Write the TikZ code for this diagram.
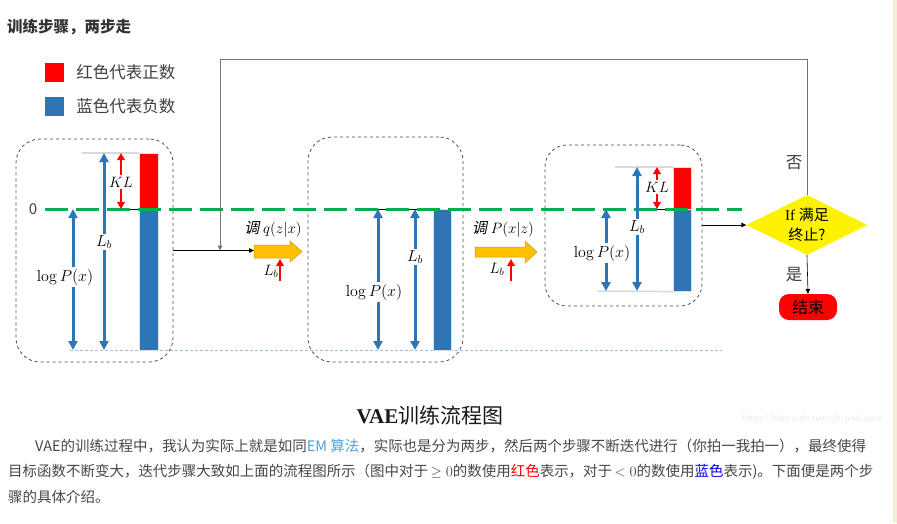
\RequirePackage{fix-cm}
\documentclass[tikz,border=0pt]{standalone}
\usepackage{amsmath}
\usepackage{amssymb}
\usepackage[no-math]{fontspec}
\usepackage{tikz}
\usetikzlibrary{arrows.meta, positioning, shapes.geometric, calc, backgrounds}
\setmainfont{Liberation Serif}
\newfontfamily\cjk{Noto Sans CJK SC}
\newfontfamily\cjkslant[FakeSlant=0.2]{Noto Sans CJK SC}
\newcommand{\pxfont}[1]{\fontsize{#1}{#1}\selectfont}
\definecolor{vaeblue}{RGB}{46, 117, 182}
\definecolor{vaered}{RGB}{255, 0, 0}
\definecolor{vaegreen}{RGB}{0, 176, 80}
\definecolor{vaeyellow}{RGB}{255, 192, 0}
\definecolor{vaelink}{RGB}{78, 161, 219}
\definecolor{vaepaper}{RGB}{246, 236, 218}
\definecolor{vaeguide}{RGB}{157, 195, 230}

\begin{document}
\begin{tikzpicture}[
    x=1pt, y=-1pt,
    panel/.style={draw=black!70, dashed, line width=0.8pt, rounded corners=24pt, inner sep=0pt},
    barred/.style={fill=vaered, draw=black!12, line width=0.6pt, inner sep=0pt, anchor=north west},
    barblue/.style={fill=vaeblue, draw=black!12, line width=0.6pt, inner sep=0pt, anchor=north west},
    zeroline/.style={vaegreen, line width=3pt, dash pattern=on 23pt off 8pt},
    greyline/.style={black!15, line width=1.5pt},
    dimarrow/.style={vaeblue, line width=3pt, -{Triangle[width=9pt, length=9pt]}},
    klarrow/.style={vaered, line width=2.2pt, -{Triangle[width=7.5pt, length=7pt]}},
    flow/.style={black, line width=0.6pt, -{Triangle[width=4.5pt, length=5pt]}},
    loopflow/.style={black!55, line width=1pt, -{Triangle[width=4.5pt, length=5pt]}},
    mathlbl/.style={inner sep=1.5pt, font=\pxfont{16}},
    cnlbl/.style={inner sep=0pt, font=\cjk\pxfont{16.5}, text=black!75},
    yarrow/.style={fill=vaeyellow, draw=vaeyellow!80!black, line width=0.5pt},
]
\useasboundingbox (0,0) rectangle (897,523);
\fill[white] (0,0) rectangle (897,523);
\fill[vaepaper] (893,0) rectangle (897,523);

% Title
\node[anchor=west, inner sep=0pt, font=\cjk\bfseries\pxfont{15.5}, text=black!80] (title) at (7,27) {训练步骤，两步走};

% Legend
\node[fill=vaered, minimum size=19pt, inner sep=0pt] (kred) at (54.5,72.5) {};
\node[fill=vaeblue, minimum size=19pt, inner sep=0pt] (kblue) at (54.5,106) {};
\node[cnlbl, right=12pt of kred] {红色代表正数};
\node[cnlbl, right=12pt of kblue] {蓝色代表负数};

% Panels
\node[panel, minimum width=157pt, minimum height=223pt] (p1) at (94.5,250.5) {};
\node[panel, minimum width=155pt, minimum height=225pt] (p2) at (385.5,249.5) {};
\node[panel, minimum width=157pt, minimum height=161pt, rounded corners=22pt] (p3) at (623.5,225.5) {};

% Bottom guide
\draw[vaeguide, line width=0.6pt, dash pattern=on 3pt off 2pt] (70,350) -- (722,350);

% Bars
\node[barred, minimum width=19pt, minimum height=56pt] (r1) at (139,153) {};
\node[barblue, minimum width=19pt, minimum height=141pt] (b1) at (139,209) {};
\node[barblue, minimum width=18pt, minimum height=141pt] (b2) at (433,209) {};
\node[barred, minimum width=18pt, minimum height=42pt] (r3) at (673,167) {};
\node[barblue, minimum width=18pt, minimum height=82pt] (b3) at (673,209) {};

% Grey ends
\draw[greyline] (82,153) -- (r1.north west);
\draw[greyline] (615,167) -- (r3.north west);
\draw[greyline] (597,291) -- (b3.south west);

% Zero level
\draw[black, line width=1pt] (128,209) -- (b1.north west);
\draw[black, line width=1pt] (373,209) -- (b2.north west);
\draw[black, line width=1pt] (648,209) -- (b3.north west);
\coordinate (zl) at (45,209);
\coordinate (zr) at (742,209);
\draw[zeroline] (zl) -- (zr);
\node[inner sep=0pt, font=\cjk\pxfont{15}, text=black!75] (zero) at (33,209) {0};

% Panel 1 arrows
\coordinate (t1) at (104,153);
\coordinate (u1) at (104,350);
\node[mathlbl] (lb1) at (104,242) {$L_b$};
\draw[dimarrow] (lb1) -- (t1);
\draw[dimarrow] (lb1) -- (u1);
\coordinate (z1) at (73,209);
\coordinate (v1) at (73,350);
\node[mathlbl] (lp1) at (65,277) {$\log P(x)$};
\draw[dimarrow] (lp1.north -| z1) -- (z1);
\draw[dimarrow] (lp1.south -| v1) -- (v1);
\coordinate (kt1) at (121,153);
\coordinate (kb1) at (121,209);
\node[mathlbl, font=\pxfont{15}] (kl1) at (121,182) {$KL$};
\draw[klarrow] (kl1) -- (kt1);
\draw[klarrow] (kl1) -- (kb1);

% Panel 2 arrows
\coordinate (z2) at (378,209);
\coordinate (v2) at (378,350);
\node[mathlbl] (lp2) at (374,292) {$\log P(x)$};
\draw[dimarrow] (lp2.north -| z2) -- (z2);
\draw[dimarrow] (lp2.south -| v2) -- (v2);
\coordinate (t2) at (415,209);
\coordinate (u2) at (415,350);
\node[mathlbl] (lb2) at (415,257) {$L_b$};
\draw[dimarrow] (lb2) -- (t2);
\draw[dimarrow] (lb2) -- (u2);

% Panel 3 arrows
\coordinate (t3) at (637,167);
\coordinate (u3) at (637,291);
\node[mathlbl] (lb3) at (637,227) {$L_b$};
\draw[dimarrow] (lb3) -- (t3);
\draw[dimarrow] (lb3) -- (u3);
\coordinate (z3) at (606,209);
\coordinate (v3) at (606,291);
\node[mathlbl] (lp3) at (602,253) {$\log P(x)$};
\draw[dimarrow] (lp3.north -| z3) -- (z3);
\draw[dimarrow] (lp3.south -| v3) -- (v3);
\coordinate (kt3) at (657,167);
\coordinate (kb3) at (657,209);
\node[mathlbl, font=\pxfont{15}] (kl3) at (657,187) {$KL$};
\draw[klarrow] (kl3) -- (kt3);
\draw[klarrow] (kl3) -- (kb3);

% Step arrows
\fill[yarrow] (254,245) -- (290,245) -- (290,241) -- (302,251.5) -- (290,262) -- (290,258) -- (254,258) -- cycle;
\fill[yarrow] (475,247) -- (525,247) -- (525,241) -- (537,252) -- (525,263) -- (525,257) -- (475,257) -- cycle;
\coordinate (ya1) at (254,250.5);
\node[font=\pxfont{15}] (q1) at (273,229) {{\cjkslant 调} $q(z|x)$};
\node[font=\pxfont{15}] (q2) at (503,229) {{\cjkslant 调} $P(x|z)$};
\node[mathlbl, font=\pxfont{15}] (lq1) at (271,271) {$L_b$};
\node[mathlbl, font=\pxfont{15}] (lq2) at (497,269) {$L_b$};
\coordinate (ua1) at (280,259);
\coordinate (ub1) at (280,281);
\coordinate (ua2) at (511,259);
\coordinate (ub2) at (511,281);
\draw[klarrow] (ub1) -- (ua1);
\draw[klarrow] (ub2) -- (ua2);

% Decision
\node[diamond, aspect=2, fill=yellow, minimum width=121pt, minimum height=60pt, inner sep=0pt,
      align=center, font=\fontsize{15}{20}\selectfont] (stop) at (807,225) {If {\cjk 满足}\\{\cjk 终止?}};
\node[fill=vaered, rounded corners=10pt, minimum width=58pt, minimum height=26pt, inner sep=0pt,
      font=\cjk\pxfont{16}] (finish) at (808,307) {结束};
\node[cnlbl] (no) at (794,163) {否};
\node[cnlbl] (yes) at (794,275) {是};
\coordinate (back) at (220,250.5);

% Connectors
\draw[flow] (p1.east) -- (ya1);
\draw[flow] (p3.east |- stop.west) -- (stop.west);
\draw[flow] (stop.south) -- (finish.north);
\draw[loopflow] (stop.north) -- ++(0,-135) -| (back);

% Caption
\node[inner sep=0pt, font=\pxfont{21}, text=black!90] (cap) at (430,415) {\textbf{VAE}{\cjk 训练流程图}};
\node[inner sep=0pt, font=\cjk\pxfont{8.5}, text=black!8] (mark) at (812,419) {https://blog.csdn.net/cjh\_jinduoxia};

% Body text
\node[anchor=west, inner sep=0pt, font=\cjk\pxfont{14.48}, text=black!72] (line1) at (35,446)
  {VAE的训练过程中，我认为实际上就是如同\textcolor{vaelink}{EM 算法}，实际也是分为两步，然后两个步骤不断迭代进行（你拍一我拍一），最终使得};
\node[anchor=west, inner sep=0pt, font=\cjk\pxfont{14.48}, text=black!72] (line2) at (8,472)
  {目标函数不断变大，迭代步骤大致如上面的流程图所示（图中对于\,$\geq 0$的数使用\textcolor{red}{红色}表示，对于\,$< 0$的数使用\textcolor{blue}{蓝色}表示)。下面便是两个步};
\node[anchor=west, inner sep=0pt, font=\cjk\pxfont{14.48}, text=black!72] (line3) at (8,497) {骤的具体介绍。};
\end{tikzpicture}
\end{document}
